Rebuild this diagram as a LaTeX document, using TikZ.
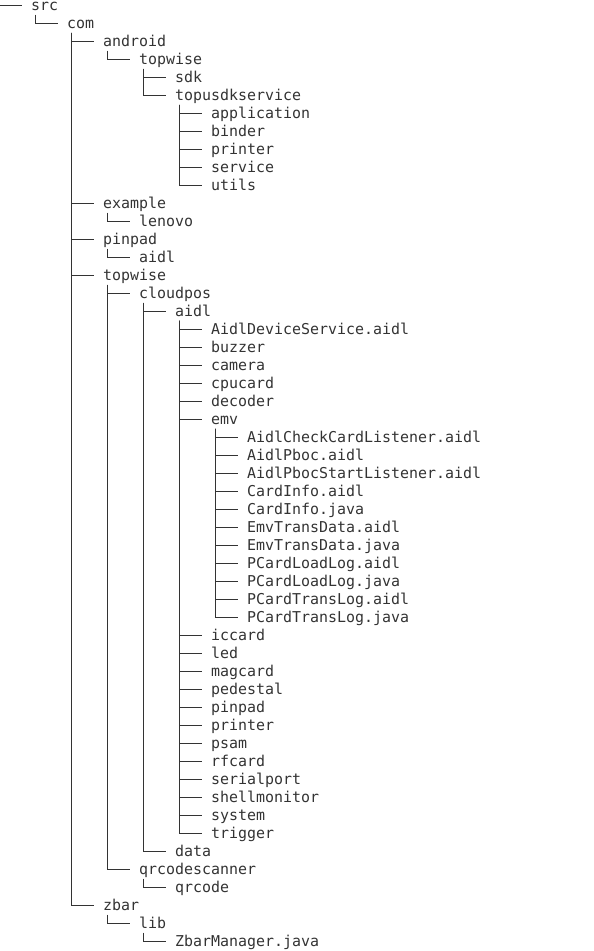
\documentclass[tikz,border=0pt]{standalone}
\usepackage{fontspec}
\newfontfamily\treefont{DejaVu Sans Mono}
\definecolor{treeink}{HTML}{333333}
% cell of the listing: column level #1, row #2 (18px rows, 36px indent)
\newcommand{\cell}[2]{({36*#1+31},{-10.5-18*#2})}
\tikzset{
  entry/.style={anchor=base west, inner sep=0pt, text=treeink,
    font=\treefont\fontsize{14.95pt}{18pt}\selectfont},
  branch/.style={draw=treeink, line width=1pt},
}
\newcommand{\branchto}[2]{%
  \draw[branch] ([xshift=4.5pt,yshift=-4pt]#1.base west) |- ([xshift=-9pt,yshift=5pt]#2.base west);}
\begin{document}
\begin{tikzpicture}[x=1pt,y=1pt]
  \useasboundingbox (0,0) rectangle (594,-951);

  % root
  \coordinate (top) at (-0.5,2);
  \node[entry] (src) at \cell{0}{0} {src};
  \draw[branch] (top) |- ([xshift=-9pt,yshift=5pt]src.base west);
  \node[entry] (com) at \cell{1}{1} {com};
  \branchto{src}{com}

  % android
  \node[entry] (android) at \cell{2}{2} {android};
  \branchto{com}{android}
  \node[entry] (atopwise) at \cell{3}{3} {topwise};
  \branchto{android}{atopwise}
  \node[entry] (sdk) at \cell{4}{4} {sdk};
  \branchto{atopwise}{sdk}
  \node[entry] (sdksvc) at \cell{4}{5} {topusdkservice};
  \branchto{atopwise}{sdksvc}
  \foreach \name [count=\i from 6] in {application,binder,printer,service,utils} {
    \node[entry] (svc-\i) at \cell{5}{\i} {\name};
    \branchto{sdksvc}{svc-\i}
  }

  % example, pinpad
  \node[entry] (example) at \cell{2}{11} {example};
  \branchto{com}{example}
  \node[entry] (lenovo) at \cell{3}{12} {lenovo};
  \branchto{example}{lenovo}
  \node[entry] (pinpad) at \cell{2}{13} {pinpad};
  \branchto{com}{pinpad}
  \node[entry] (paidl) at \cell{3}{14} {aidl};
  \branchto{pinpad}{paidl}

  % topwise
  \node[entry] (topwise) at \cell{2}{15} {topwise};
  \branchto{com}{topwise}
  \node[entry] (cloudpos) at \cell{3}{16} {cloudpos};
  \branchto{topwise}{cloudpos}
  \node[entry] (aidl) at \cell{4}{17} {aidl};
  \branchto{cloudpos}{aidl}
  \foreach \name [count=\i from 18] in {AidlDeviceService.aidl,buzzer,camera,cpucard,decoder} {
    \node[entry] (aidl-\i) at \cell{5}{\i} {\name};
    \branchto{aidl}{aidl-\i}
  }
  \node[entry] (emv) at \cell{5}{23} {emv};
  \branchto{aidl}{emv}
  \foreach \name [count=\i from 24] in {AidlCheckCardListener.aidl,AidlPboc.aidl,
      AidlPbocStartListener.aidl,CardInfo.aidl,CardInfo.java,EmvTransData.aidl,
      EmvTransData.java,PCardLoadLog.aidl,PCardLoadLog.java,PCardTransLog.aidl,
      PCardTransLog.java} {
    \node[entry] (emv-\i) at \cell{6}{\i} {\name};
    \branchto{emv}{emv-\i}
  }
  \foreach \name [count=\i from 35] in {iccard,led,magcard,pedestal,pinpad,printer,
      psam,rfcard,serialport,shellmonitor,system,trigger} {
    \node[entry] (aidl-\i) at \cell{5}{\i} {\name};
    \branchto{aidl}{aidl-\i}
  }
  \node[entry] (data) at \cell{4}{47} {data};
  \branchto{cloudpos}{data}
  \node[entry] (qrscan) at \cell{3}{48} {qrcodescanner};
  \branchto{topwise}{qrscan}
  \node[entry] (qrcode) at \cell{4}{49} {qrcode};
  \branchto{qrscan}{qrcode}

  % zbar
  \node[entry] (zbar) at \cell{2}{50} {zbar};
  \branchto{com}{zbar}
  \node[entry] (lib) at \cell{3}{51} {lib};
  \branchto{zbar}{lib}
  \node[entry] (zbarmgr) at \cell{4}{52} {ZbarManager.java};
  \branchto{lib}{zbarmgr}
\end{tikzpicture}
\end{document}
